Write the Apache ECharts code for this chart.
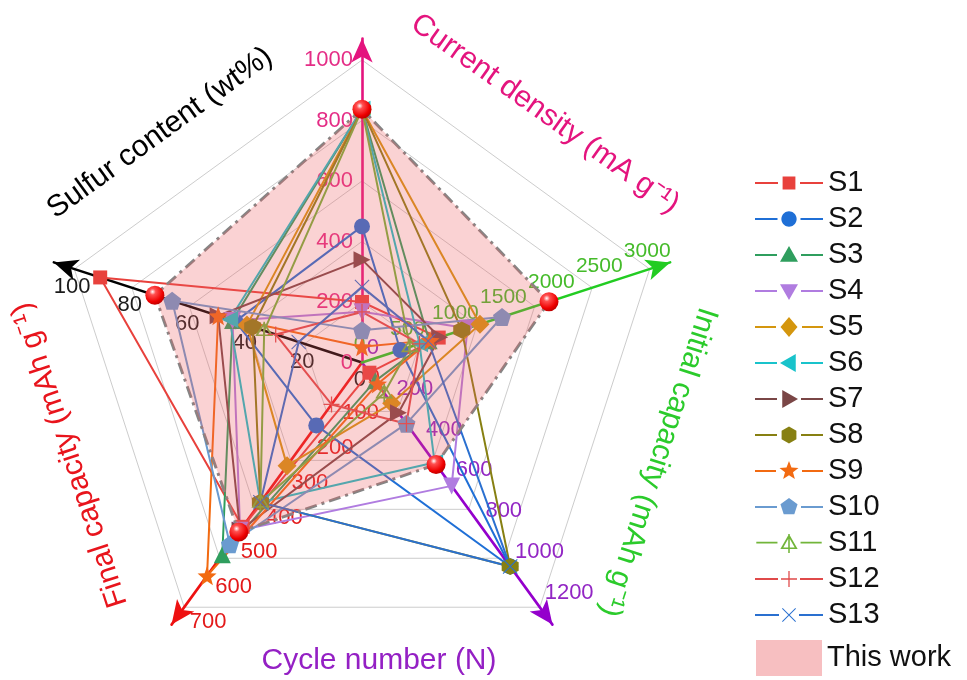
<!DOCTYPE html>
<html>
<head>
<meta charset="utf-8">
<script src="https://cdn.jsdelivr.net/npm/echarts@6/dist/echarts.min.js"></script>
<style>
  html, body { margin: 0; padding: 0; background: #ffffff; }
  #chart { width: 967px; height: 680px; }
</style>
</head>
<body>
<div id="chart"></div>
<script>
// Radar axes, counter-clockwise from the top
const axisNames = ['Current density', 'Sulfur content', 'Final capacity', 'Cycle number', 'Initial capacity'];
const axisMax = [1000, 100, 700, 1200, 3000];
const axisSteps = [5, 5, 7, 6, 6];

// Each row: [current density, sulfur content, final capacity, cycle number, initial capacity]
const seriesNames = ['S1', 'S2', 'S3', 'S4', 'S5', 'S6', 'S7', 'S8', 'S9', 'S10', 'S11', 'S12', 'S13'];
const s1 = [200, 91, 470, 50, 800];
const s2 = [450, 44, 180, 1000, 400];
const s3 = [837, 45, 550, 90, 700];
const s4 = [168, 45, 480, 605, 1100];
const s5 = [837, 40, 295, 200, 1230];
const s6 = [837, 46, 400, 490, 600];
const s7 = [340, 50, 480, 246, 810];
const s8 = [837, 38, 400, 1000, 1040];
const s9 = [52, 50, 610, 105, 710];
const s10 = [107, 66, 520, 300, 1460];
const s11 = [837, 34, 400, 150, 500];
const s12 = [167, 30, 120, 300, 600];
const s13 = [250, 22, 400, 1000, 690];
const thisWork = [837, 72, 485, 500, 1950];
const seriesValues = [s1, s2, s3, s4, s5, s6, s7, s8, s9, s10, s11, s12, s13];

// ---------- styling ----------
const FONT = '"Liberation Sans", Arial, Helvetica, sans-serif';
const seriesColors = ['#E8413C', '#1F6FD6', '#2F9E5E', '#B07CE0', '#D4960E', '#19C3CB', '#7A4646',
                      '#878012', '#F26A11', '#6A9BD0', '#72B53A', '#E04A4A', '#2A70D0'];
const seriesShapes = ['square', 'circle', 'triUp', 'triDown', 'diamond', 'triLeft', 'triRight',
                      'hexagon', 'star', 'pentagon', 'openTri', 'plus', 'cross'];
const symbolSizes = [14, 16, 17, 17, 19, 17, 17, 17, 19, 18, 18, 16, 15];
const legendScales = [8, 8.5, 9, 9, 10, 9, 9, 9, 10, 9, 9, 8, 7];

const axisColors = ['#E4147E', '#000000', '#EE1111', '#9400CC', '#22CC22'];
const labelColors = ['#E42D86', '#1a1a1a', '#E31A1A', '#9226C4', '#45BB2A'];
const labelPlacement = [
  { margin: 9, fontSize: 22 },
  { align: 'center', verticalAlign: 'top', margin: 7, fontSize: 22 },
  { align: 'left', verticalAlign: 'top', margin: 7, fontSize: 22 },
  { align: 'left', verticalAlign: 'bottom', margin: 6, fontSize: 22 },
  { align: 'center', verticalAlign: 'bottom', margin: 8, fontSize: 21 }
];

// ---------- marker geometry (unit space, about [-1, 1]) ----------
function ring(r, n, start) {
  const pts = [];
  for (let k = 0; k < n; k++) {
    const a = ((start || 0) + k * 360 / n) * Math.PI / 180;
    pts.push([r * Math.cos(a), r * Math.sin(a)]);
  }
  return pts;
}
function starPts() {
  const pts = [];
  for (let k = 0; k < 10; k++) {
    const a = (-90 + k * 36) * Math.PI / 180;
    const r = k % 2 === 0 ? 1 : 0.42;
    pts.push([r * Math.cos(a), r * Math.sin(a)]);
  }
  return pts;
}
const SHAPES = {
  square: [[[-0.8, -0.8], [0.8, -0.8], [0.8, 0.8], [-0.8, 0.8]]],
  circle: [ring(0.9, 36, 0)],
  triUp: [[[0, -1], [1, 0.75], [-1, 0.75]]],
  triDown: [[[-1, -0.75], [1, -0.75], [0, 1]]],
  triLeft: [[[-1, 0], [0.75, -1], [0.75, 1]]],
  triRight: [[[1, 0], [-0.75, 1], [-0.75, -1]]],
  diamond: [[[0, -1], [0.85, 0], [0, 1], [-0.85, 0]]],
  hexagon: [ring(0.95, 6, -90)],
  star: [starPts()],
  pentagon: [ring(1, 5, -90)],
  openTri: [
    [[0, -1], [1, 0.75], [-1, 0.75]],
    [[0, -0.6], [-0.66, 0.55], [0.66, 0.55]],
    [[-0.09, -1], [0.09, -1], [0.09, 1.2], [-0.09, 1.2]]
  ],
  plus: [[[-0.08, -1], [0.08, -1], [0.08, -0.08], [1, -0.08], [1, 0.08], [0.08, 0.08],
          [0.08, 1], [-0.08, 1], [-0.08, 0.08], [-1, 0.08], [-1, -0.08], [-0.08, -0.08]]],
  cross: [
    [[-1, -0.9], [-0.9, -1], [1, 0.9], [0.9, 1]],
    [[0.9, -1], [1, -0.9], [-0.9, 1], [-1, 0.9]]
  ]
};
function polyPath(pts, ox, oy, s) {
  return 'M' + pts.map(p => (ox + p[0] * s).toFixed(2) + ' ' + (oy + p[1] * s).toFixed(2)).join(' L') + ' Z';
}
function shapePath(name, ox, oy, s) {
  return SHAPES[name].map(p => polyPath(p, ox, oy, s)).join(' ');
}
function chartSymbol(name) {
  return 'path://' + shapePath(name, 10, 10, 10);
}
// Legend icon: line, gap, marker, gap, line inside a 68 x 20 box
function legendIcon(name, scale) {
  const W = 68, H = 20, cx = 34, cy = 10;
  const half = scale + 3;
  let d = 'M0 0 L0.05 0 L0.05 0.05 Z M' + (W - 0.05) + ' ' + (H - 0.05) + ' L' + W + ' ' + (H - 0.05) + ' L' + W + ' ' + H + ' Z ';
  d += 'M0 ' + (cy - 1) + ' L' + (cx - half) + ' ' + (cy - 1) + ' L' + (cx - half) + ' ' + (cy + 1) + ' L0 ' + (cy + 1) + ' Z ';
  d += 'M' + (cx + half) + ' ' + (cy - 1) + ' L' + W + ' ' + (cy - 1) + ' L' + W + ' ' + (cy + 1) + ' L' + (cx + half) + ' ' + (cy + 1) + ' Z ';
  d += shapePath(name, cx, cy, scale);
  return 'path://' + d;
}

// ---------- radar coordinate systems sharing one centre ----------
const CENTER = [362, 362.5];
const RADIUS = 302.5;

function labelRadar(steps, withGrid) {
  return {
    center: CENTER, radius: RADIUS, startAngle: 90, shape: 'polygon', splitNumber: steps,
    axisName: { show: false },
    axisLine: { show: false },
    axisTick: { show: false },
    axisLabel: { show: false },
    splitLine: { show: withGrid, lineStyle: { color: '#c6c6c6', width: 0.9 } },
    splitArea: { show: false },
    indicator: axisNames.map((n, i) => {
      const ind = { name: n, min: 0, max: axisMax[i] };
      if (axisSteps[i] === steps) {
        ind.axisLabel = Object.assign({
          show: true, color: labelColors[i], fontFamily: FONT,
          showMinLabel: true, showMaxLabel: true,
          formatter: v => String(Math.round(v))
        }, labelPlacement[i]);
      }
      return ind;
    })
  };
}
const arrowRadar = {
  center: CENTER, radius: 324, startAngle: 90, shape: 'polygon', splitNumber: 1,
  axisName: { show: false },
  axisLine: { show: true, symbol: ['none', 'arrow'], symbolSize: [16, 24], lineStyle: { width: 2.6 } },
  axisTick: { show: false },
  axisLabel: { show: false },
  splitLine: { show: false },
  splitArea: { show: false },
  indicator: axisNames.map((n, i) => ({
    name: n, min: 0, max: axisMax[i], axisLine: { lineStyle: { color: axisColors[i] } }
  }))
};

const series = seriesNames.map((name, i) => {
  const shape = seriesShapes[i];
  let symbol = chartSymbol(shape);
  if (shape === 'square') symbol = 'rect';
  if (shape === 'circle') symbol = 'circle';
  if (shape === 'diamond') symbol = 'diamond';
  return {
    type: 'radar', radarIndex: 0, name: name, z: 2,
    symbol: symbol, symbolSize: symbolSizes[i], symbolKeepAspect: true,
    lineStyle: { color: seriesColors[i], width: 2 },
    itemStyle: { color: seriesColors[i], borderWidth: 0 },
    emphasis: { disabled: true },
    data: [{ name: name, value: seriesValues[i] }]
  };
});
series.push({
  type: 'radar', radarIndex: 0, name: 'This work', z: 3,
  symbol: 'circle', symbolSize: 19,
  lineStyle: { color: '#858585', width: 3, type: [12, 5, 3, 5] },
  areaStyle: { color: 'rgba(236, 92, 98, 0.4)' },
  itemStyle: {
    color: {
      type: 'radial', x: 0.38, y: 0.32, r: 0.75,
      colorStops: [
        { offset: 0, color: '#ffffff' },
        { offset: 0.22, color: '#ff5050' },
        { offset: 0.7, color: '#ee0000' },
        { offset: 1, color: '#b00000' }
      ]
    },
    borderWidth: 0
  },
  emphasis: { disabled: true },
  data: [{ name: 'This work', value: thisWork }]
});

const titleFont = '30px ' + FONT;
const deg = Math.PI / 180;

const option = {
  animation: false,
  backgroundColor: '#ffffff',
  radar: [labelRadar(5, true), labelRadar(6, false), labelRadar(7, false), arrowRadar],
  legend: [
    {
      orient: 'vertical', left: 755, top: 165, padding: 0,
      itemWidth: 68, itemHeight: 20, itemGap: 0, selectedMode: false,
      itemStyle: { borderWidth: 0 },
      textStyle: { fontSize: 29, fontFamily: FONT, color: '#111111', lineHeight: 36 },
      data: seriesNames.map((n, i) => ({ name: n, icon: legendIcon(seriesShapes[i], legendScales[i]) }))
    },
    {
      orient: 'vertical', left: 756, top: 640, padding: 0,
      itemWidth: 66, itemHeight: 36, selectedMode: false,
      itemStyle: { borderWidth: 0 },
      textStyle: { fontSize: 29, fontFamily: FONT, color: '#111111' },
      data: [{ name: 'This work', icon: 'rect', itemStyle: { color: '#F7BFC1' } }]
    }
  ],
  graphic: [
    { type: 'text', x: 545, y: 114, rotation: -35.5 * deg,
      style: { text: 'Current density (mA g\u207B\u00B9)', font: titleFont, fill: '#E4147E', align: 'center', verticalAlign: 'middle' } },
    { type: 'text', x: 658, y: 462, rotation: -108 * deg,
      style: { text: 'Initial capacity (mAh g\u207B\u00B9)', font: titleFont, fill: '#2BCB2B', align: 'center', verticalAlign: 'middle' } },
    { type: 'text', x: 379, y: 661, rotation: 0,
      style: { text: 'Cycle number (N)', font: titleFont, fill: '#9420C4', align: 'center', verticalAlign: 'middle' } },
    { type: 'text', x: 70, y: 455, rotation: 108 * deg,
      style: { text: 'Final capacity (mAh g\u207B\u00B9)', font: titleFont, fill: '#E8141C', align: 'center', verticalAlign: 'middle' } },
    { type: 'text', x: 160, y: 133, rotation: 36 * deg,
      style: { text: 'Sulfur content (wt%)', font: titleFont, fill: '#000000', align: 'center', verticalAlign: 'middle' } }
  ],
  series: series
};

const chart = echarts.init(document.getElementById('chart'), null, { renderer: 'canvas' });
chart.setOption(option);
</script>
</body>
</html>
